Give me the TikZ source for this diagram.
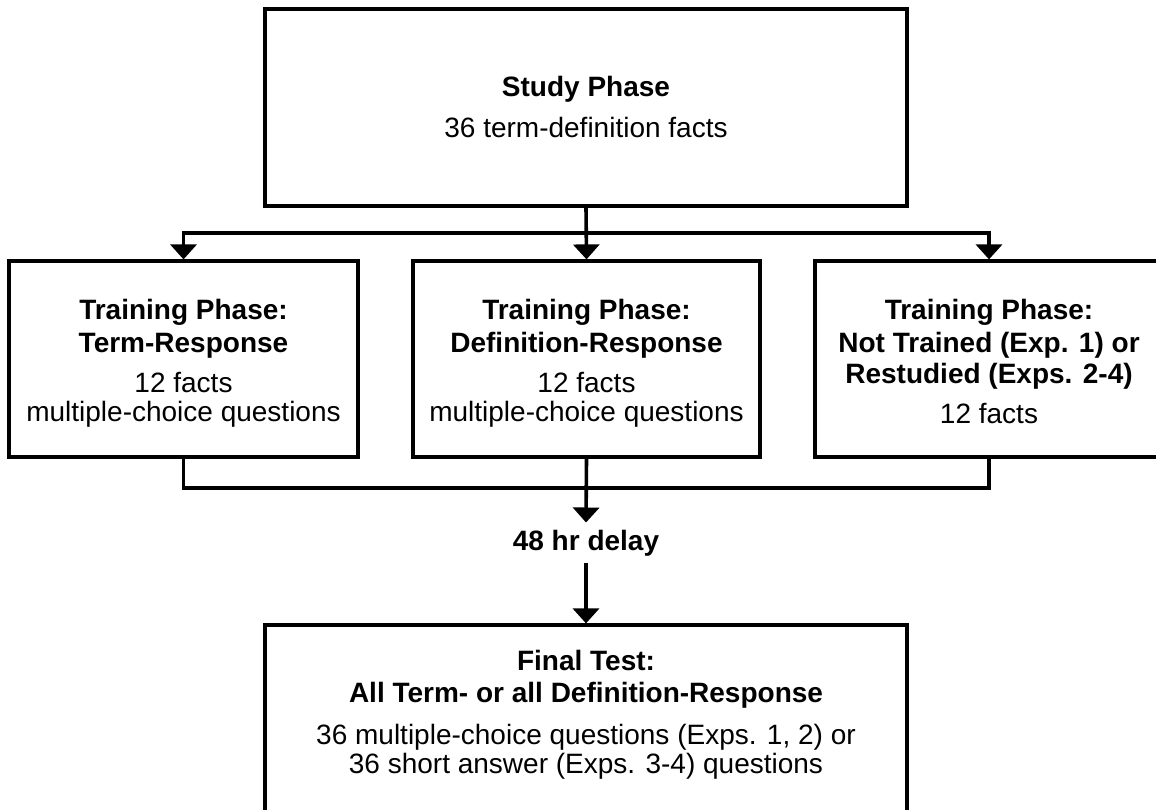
\documentclass[tikz,border=0pt]{standalone}
\usepackage{fontspec}
\setmainfont{Liberation Sans}
\usetikzlibrary{arrows.meta}
\tikzset{
  boxnode/.style={draw, line width=3.2pt, inner sep=0pt, line join=miter},
  conn/.style={line width=3.6pt, line join=miter},
  arr/.style={conn, -{Triangle[width=26pt,length=15pt]}},
  txt/.style={font=\fontsize{28}{32}\selectfont, anchor=base, inner sep=0pt},
  btxt/.style={txt, font=\fontsize{28}{32}\selectfont\bfseries},
}
\begin{document}
\begin{tikzpicture}[x=1pt,y=-1pt]
\useasboundingbox (0,0) rectangle (1156,810);
\clip (0,0) rectangle (1156,810);
% boxes
\node[boxnode, minimum width=642pt, minimum height=197pt] (study) at (586,107.5) {};
\node[boxnode, minimum width=349pt, minimum height=196pt] (left) at (183.5,359) {};
\node[boxnode, minimum width=347pt, minimum height=196pt] (mid) at (586.5,359) {};
\node[boxnode, minimum width=348pt, minimum height=196pt] (right) at (989,359) {};
\node[boxnode, minimum width=642pt, minimum height=275pt] (final) at (586,762.5) {};
% texts
\node[btxt] (s1) at (586,97) {Study Phase};
\node[txt] (s2) at (586,138) {36 term-definition facts};
\node[btxt] (l1) at (183.5,319) {Training Phase:};
\node[btxt] (l2) at (183.5,352) {Term-Response};
\node[txt] (l3) at (183.5,392) {12 facts};
\node[txt] (l4) at (183.5,421) {multiple-choice questions};
\node[btxt] (m1) at (586.5,319) {Training Phase:};
\node[btxt] (m2) at (586.5,352) {Definition-Response};
\node[txt] (m3) at (586.5,392) {12 facts};
\node[txt] (m4) at (586.5,421) {multiple-choice questions};
\node[btxt] (r1) at (989,319) {Training Phase:};
\node[btxt] (r2) at (989,352) {Not Trained (Exp. 1) or};
\node[btxt] (r3) at (989,383) {Restudied (Exps. 2-4)};
\node[txt] (r4) at (989,423) {12 facts};
\node[btxt, inner sep=7pt] (delay) at (586,550) {48 hr delay};
\node[btxt] (f1) at (586,670) {Final Test:};
\node[btxt] (f2) at (586,702) {All Term- or all Definition-Response};
\node[txt] (f3) at (586,744) {36 multiple-choice questions (Exps. 1, 2) or};
\node[txt] (f4) at (586,773) {36 short answer (Exps. 3-4) questions};
% connectors
\coordinate (dl) at (183.5,233);
\coordinate (dr) at (989,233);
\coordinate (cl) at (183.5,488);
\coordinate (cr) at (989,488);
\draw[arr] (study.south) -- (mid.north);
\draw[arr] (dr) -- (dl) -- (left.north);
\draw[arr] (dl) -- (dr) -- (right.north);
\draw[conn] (left.south) -- (cl) -- (cr) -- (right.south);
\draw[arr] (mid.south) -- (delay.north);
\draw[arr] (delay.south) -- (final.north);
\end{tikzpicture}
\end{document}
